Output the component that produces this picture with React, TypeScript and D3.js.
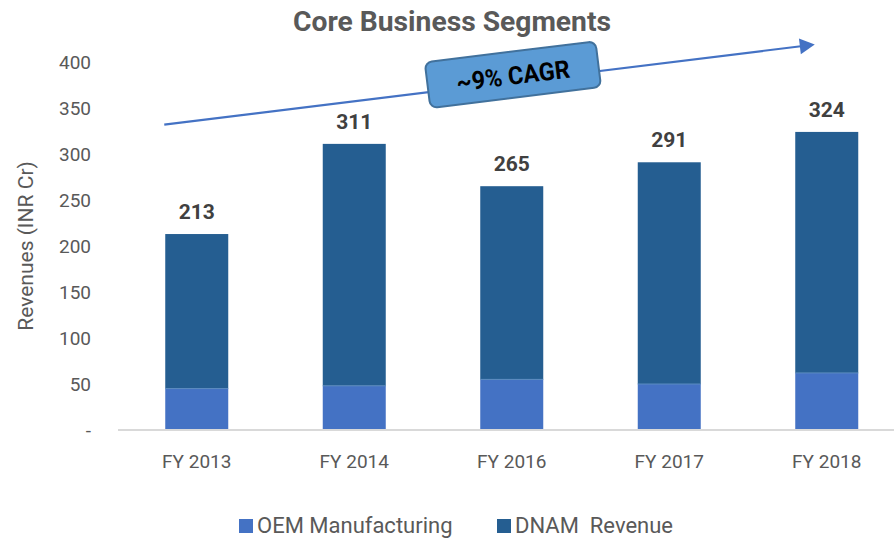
import * as d3 from "d3";

// chart data
const years = ["FY 2013", "FY 2014", "FY 2016", "FY 2017", "FY 2018"];
const oemValues = [45, 48, 55, 50, 62];
const dnamValues = [168, 263, 210, 241, 262];
const yTicks = [0, 50, 100, 150, 200, 250, 300, 350, 400];
const seriesNames = ["OEM Manufacturing", "DNAM  Revenue"];
const seriesColors = ["#4472c4", "#255e91"];
// CAGR arrow, in revenue units at its two ends
const cagrLabel = "~9% CAGR";
const cagrFrom = 332;
const cagrTo = 419;

const W = 894;
const H = 540;

export default function App() {
  const x = d3
    .scaleBand()
    .domain(years)
    .range([118, 905.5])
    .paddingInner(0.6)
    .paddingOuter(0.3);
  const y = d3.scaleLinear().domain([0, 400]).range([430, 62]);

  const rows = years.map((yr, i) => ({
    yr,
    oem: oemValues[i],
    dnam: dnamValues[i],
    total: oemValues[i] + dnamValues[i],
  }));

  const stack = d3.stack().keys(["oem", "dnam"])(rows as any);

  // arrow geometry
  const x1 = (x(years[0]) as number) - 1;
  const x2 = (x(years[years.length - 1]) as number) + x.bandwidth() * 0.31;
  const y1 = y(cagrFrom);
  const y2 = y(cagrTo);
  const ang = (Math.atan2(y2 - y1, x2 - x1) * 180) / Math.PI;
  const len = Math.hypot(x2 - x1, y2 - y1);
  const midT = 0.536;
  const bx = x1 + (x2 - x1) * midT;
  const by = y1 + (y2 - y1) * midT - 7;

  const font = "Roboto, 'Liberation Sans', sans-serif";
  const narrow = "'Liberation Sans Narrow', Roboto, sans-serif";

  return (
    <svg
      width={W}
      height={H}
      style={{ position: "absolute", left: 0, top: 0, background: "#fff" }}
    >
      <text
        x={452}
        y={31}
        textAnchor="middle"
        fontFamily={narrow}
        fontWeight="bold"
        fontSize={27}
        fill="#595959"
        textLength={318}
        lengthAdjust="spacingAndGlyphs"
      >
        Core Business Segments
      </text>

      {/* y axis labels */}
      {yTicks.map((t) => (
        <text
          key={t}
          x={91}
          y={y(t)}
          dy="0.35em"
          textAnchor="end"
          fontFamily={font}
          fontSize={19}
          fill="#595959"
        >
          {t === 0 ? "-" : t}
        </text>
      ))}
      <text
        transform={`translate(33,${(y(0) + y(400)) / 2}) rotate(-90)`}
        textAnchor="middle"
        fontFamily={font}
        fontSize={21}
        fill="#595959"
      >
        Revenues (INR Cr)
      </text>

      {/* bars */}
      {stack.map((s, si) => (
        <g key={si} fill={seriesColors[si]}>
          {s.map((d: any, i) => (
            <rect
              key={i}
              x={x(years[i])}
              y={y(d[1])}
              width={x.bandwidth()}
              height={y(d[0]) - y(d[1])}
            />
          ))}
        </g>
      ))}

      {/* segment separators */}
      {rows.map((r) => (
        <line
          key={r.yr}
          x1={x(r.yr)}
          x2={(x(r.yr) as number) + x.bandwidth()}
          y1={y(r.oem)}
          y2={y(r.oem)}
          stroke="#5b8bc0"
          strokeWidth={1}
        />
      ))}

      {/* axis line */}
      <line x1={118} x2={W} y1={y(0)} y2={y(0)} stroke="#d9d9d9" strokeWidth={2} />

      {/* total labels */}
      {rows.map((r) => (
        <text
          key={r.yr}
          x={(x(r.yr) as number) + x.bandwidth() / 2}
          y={y(r.total) - 15}
          textAnchor="middle"
          fontFamily={font}
          fontWeight="bold"
          fontSize={21}
          fill="#404040"
        >
          {r.total}
        </text>
      ))}

      {/* x labels */}
      {years.map((yr) => (
        <text
          key={yr}
          x={(x(yr) as number) + x.bandwidth() / 2}
          y={468}
          textAnchor="middle"
          fontFamily={font}
          fontSize={19}
          fill="#595959"
        >
          {yr}
        </text>
      ))}

      {/* CAGR arrow */}
      <g transform={`translate(${x1},${y1}) rotate(${ang})`}>
        <line x1={0} x2={len - 14} y1={0} y2={0} stroke="#4472c4" strokeWidth={2.2} />
        <path d={`M${len},0 L${len - 15},-8 L${len - 15},8 Z`} fill="#4472c4" />
      </g>
      <g transform={`translate(${bx},${by}) rotate(${ang})`}>
        <rect
          x={-86}
          y={-23}
          width={172}
          height={46}
          rx={7}
          fill="#5b9bd5"
          stroke="#41719c"
          strokeWidth={2}
        />
        <text
          x={0}
          y={1}
          dy="0.35em"
          textAnchor="middle"
          fontFamily={narrow}
          fontWeight="bold"
          fontSize={25}
          fill="#000"
          textLength={114}
          lengthAdjust="spacingAndGlyphs"
        >
          {cagrLabel}
        </text>
      </g>

      {/* legend */}
      {seriesNames.map((n, i) => {
        const lx = [239, 497][i];
        return (
          <g key={n}>
            <rect x={lx} y={519} width={14} height={14} fill={seriesColors[i]} />
            <text
              x={lx + 18}
              y={533}
              fontFamily={font}
              fontSize={22}
              fill="#595959"
              style={{ whiteSpace: "pre" }}
            >
              {n}
            </text>
          </g>
        );
      })}
    </svg>
  );
}
